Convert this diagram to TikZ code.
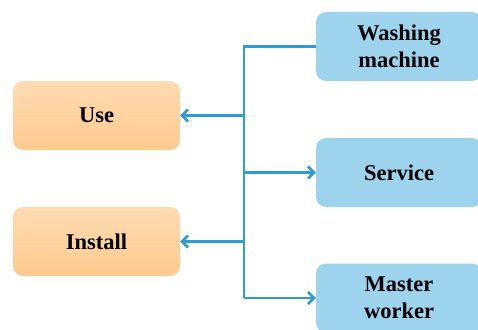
\documentclass[tikz,border=0pt]{standalone}
\usepackage{fontspec}
\setmainfont{Liberation Serif}
\usetikzlibrary{arrows.meta}
\definecolor{lineblue}{HTML}{2E9AD6}
\definecolor{boxblue}{HTML}{9ED3EE}
\definecolor{orangetop}{HTML}{FFDBB2}
\definecolor{orangebot}{HTML}{FDCA8E}
\tikzset{
  obox/.style={rectangle, rounded corners=10pt, minimum width=167pt, minimum height=69pt,
    top color=orangetop, bottom color=orangebot, draw=none,
    font=\fontsize{22.5}{25}\selectfont\bfseries, align=center, inner sep=0pt},
  bbox/.style={rectangle, rounded corners=10pt, minimum width=166pt, minimum height=69pt,
    fill=boxblue, draw=none,
    font=\fontsize{22.5}{27}\selectfont\bfseries, align=center, inner sep=0pt},
  conn/.style={draw=lineblue, line width=2.6pt},
  arr/.style={conn, -{Straight Barb[length=6pt,width=12pt,line width=2.6pt]}}
}
\begin{document}
\begin{tikzpicture}[x=1pt,y=-1pt]
\useasboundingbox (0,0) rectangle (478,329);
\node[obox] (use) at (96.5,115.5) {Use};
\node[obox] (install) at (96.5,241.5) {Install};
\node[bbox] (wash) at (399,46.5) {Washing\\machine};
\node[bbox] (serv) at (399,172.5) {Service};
\node[bbox] (master) at (399,298) {Master\\worker};
\coordinate (jt) at (244,46.5);
\coordinate (jb) at (244,298);
\draw[conn] (wash.west) -- (jt) -- (jb);
\draw[arr] (jb) -- (master.west);
\draw[arr] (jt |- serv) -- (serv.west);
\draw[arr] (jt |- use) -- (use.east);
\draw[arr] (jt |- install) -- (install.east);
\end{tikzpicture}
\end{document}
